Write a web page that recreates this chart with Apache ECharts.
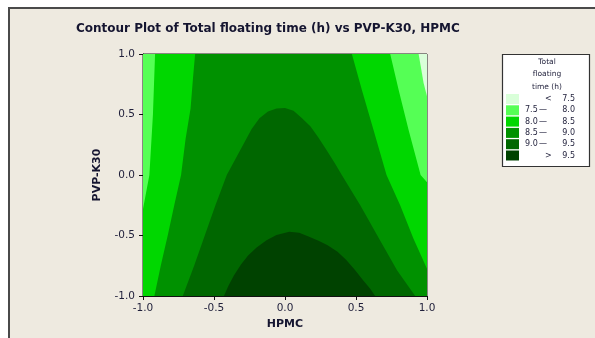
<!DOCTYPE html>
<html>
<head>
<meta charset="utf-8">
<script src="https://cdn.jsdelivr.net/npm/echarts@6/dist/echarts.min.js"></script>
<style>
  html, body { margin: 0; padding: 0; background: #fff; }
  #chart { width: 595px; height: 338px; }
</style>
</head>
<body>
<div id="chart"></div>
<script>
// axis ticks (HPMC on x, PVP-K30 on y)
const xTicks = [-1.0, -0.5, 0.0, 0.5, 1.0];
const yTicks = [-1.0, -0.5, 0.0, 0.5, 1.0];

// legend classes, lowest to highest
const levels = ['< 7.5', '7.5 – 8.0', '8.0 – 8.5', '8.5 – 9.0', '9.0 – 9.5', '> 9.5'];
const levelColors = ['#d9ffd9', '#55ff55', '#00d700', '#009100', '#006700', '#004200'];

// filled regions as [HPMC, PVP-K30] outlines
const areaAll = [[-1, 1], [-1, -1], [1, -1], [1, 1]];
const areaAbove80 = [
  [-0.915, 1], [-0.93, 0.5], [-0.955, 0], [-1, -0.28], [-1, -1], [1, -1],
  [1, -0.06], [0.955, 0], [0.87, 0.374], [0.80, 0.705], [0.741, 1]
];
const areaAbove85 = [
  [-0.633, 1], [-0.648, 0.8], [-0.665, 0.55], [-0.70, 0.3], [-0.732, 0], [-0.78, -0.25],
  [-0.826, -0.5], [-0.875, -0.75], [-0.92, -1], [1, -1], [1, -0.774],
  [0.905, -0.526], [0.811, -0.25], [0.715, 0], [0.623, 0.374], [0.541, 0.705], [0.471, 1]
];
const areaAbove90 = [
  [-0.72, -1], [-0.64, -0.75], [-0.565, -0.5], [-0.49, -0.25], [-0.41, 0.0],
  [-0.35, 0.13], [-0.29, 0.26], [-0.235, 0.38], [-0.18, 0.47], [-0.12, 0.525],
  [-0.06, 0.55], [0.0, 0.553], [0.06, 0.53], [0.12, 0.47], [0.18, 0.40], [0.235, 0.31],
  [0.29, 0.21], [0.35, 0.10], [0.40, 0.0], [0.53, -0.25], [0.66, -0.52],
  [0.79, -0.79], [0.917, -1]
];
const areaAbove95 = [
  [-0.43, -1], [-0.40, -0.92], [-0.36, -0.83], [-0.31, -0.74], [-0.26, -0.665],
  [-0.2, -0.6], [-0.13, -0.54], [-0.06, -0.495], [0.03, -0.468], [0.1, -0.478],
  [0.17, -0.51], [0.24, -0.545], [0.3, -0.58], [0.37, -0.635], [0.43, -0.70],
  [0.49, -0.78], [0.55, -0.87], [0.6, -0.94], [0.635, -1]
];
const areaBelow75 = [[0.941, 1], [0.976, 0.76], [1, 0.65], [1, 1]];

const textColor = '#1f1f3a';
const font = 'DejaVu Sans';

function region(name, pts, color, z) {
  return {
    type: 'custom',
    name: name,
    coordinateSystem: 'cartesian2d',
    data: pts,
    encode: { x: 0, y: 1 },
    itemStyle: { color: color },
    z: z,
    clip: true,
    silent: true,
    renderItem: function (params, api) {
      if (params.dataIndex !== 0) return null;
      return {
        type: 'polygon',
        shape: { points: pts.map(function (p) { return api.coord(p); }) },
        style: { fill: color }
      };
    }
  };
}

function legendLabel(name) {
  if (name[0] === '<' || name[0] === '>') {
    return '{sp|}{op|' + name[0] + '}{hi|' + name.slice(2) + '}';
  }
  const parts = name.split(' – ');
  return '{lo|' + parts[0] + '}{d|—}{hi2|' + parts[1] + '}';
}

const legendFont = { fontFamily: font, fontSize: 8, color: textColor };

const chart = echarts.init(document.getElementById('chart'));

chart.setOption({
  backgroundColor: '#ffffff',
  animation: false,
  title: {
    text: 'Contour Plot of Total floating time (h) vs PVP-K30, HPMC',
    left: 76,
    top: 23,
    padding: 0,
    textStyle: { fontFamily: font, fontSize: 12, fontWeight: 'bold', color: '#151530' }
  },
  graphic: [
    {
      type: 'rect', z: -10, silent: true,
      shape: { x: 9, y: 8, width: 600, height: 340 },
      style: { fill: '#eeeae0', stroke: '#4a4a4a', lineWidth: 2 }
    },
    {
      type: 'rect', z: 1, silent: true,
      shape: { x: 502.5, y: 54.5, width: 87, height: 112 },
      style: { fill: '#ffffff', stroke: '#333333', lineWidth: 1.2 }
    },
    {
      type: 'text', z: 2, silent: true,
      x: 547, y: 56,
      style: {
        text: 'Total\nfloating\ntime (h)',
        fontFamily: font, fontSize: 7.5, lineHeight: 12.3,
        fill: textColor, align: 'center'
      }
    }
  ],
  grid: {
    left: 143, top: 54, width: 284, height: 242,
    show: true, borderColor: '#222', borderWidth: 1, backgroundColor: 'transparent'
  },
  legend: {
    orient: 'vertical',
    left: 506, top: 94,
    padding: 0,
    itemWidth: 13, itemHeight: 10, itemGap: 1.3,
    icon: 'rect',
    selectedMode: false,
    data: levels,
    formatter: legendLabel,
    textStyle: Object.assign({}, legendFont, {
      padding: [0, 0, 0, 1],
      rich: {
        lo: Object.assign({ width: 14 }, legendFont),
        d: Object.assign({ width: 8 }, legendFont),
        hi2: Object.assign({ width: 28, align: 'right' }, legendFont),
        sp: { width: 20 },
        op: Object.assign({ width: 8 }, legendFont),
        hi: Object.assign({ width: 22, align: 'right' }, legendFont)
      }
    })
  },
  xAxis: {
    type: 'value', min: xTicks[0], max: xTicks[xTicks.length - 1], interval: 0.5,
    name: 'HPMC', nameLocation: 'middle', nameGap: 21,
    nameTextStyle: { fontFamily: font, fontSize: 11, fontWeight: 'bold', color: '#151530' },
    axisLine: { onZero: false, lineStyle: { color: '#111', width: 1 } },
    axisTick: { show: true, length: 4, lineStyle: { color: '#111' } },
    axisLabel: {
      margin: 7, fontFamily: font, fontSize: 10.5, color: textColor,
      formatter: function (v) { return v.toFixed(1); }
    },
    splitLine: { show: false }
  },
  yAxis: {
    type: 'value', min: yTicks[0], max: yTicks[yTicks.length - 1], interval: 0.5,
    name: 'PVP-K30', nameLocation: 'middle', nameGap: 40,
    nameTextStyle: { fontFamily: font, fontSize: 11, fontWeight: 'bold', color: '#151530' },
    axisLine: { onZero: false, lineStyle: { color: '#111', width: 1 } },
    axisTick: { show: true, length: 4, lineStyle: { color: '#111' } },
    axisLabel: {
      margin: 8, fontFamily: font, fontSize: 10.5, color: textColor,
      formatter: function (v) { return v.toFixed(1); }
    },
    splitLine: { show: false }
  },
  series: [
    region(levels[1], areaAll, levelColors[1], 2),
    region(levels[2], areaAbove80, levelColors[2], 3),
    region(levels[3], areaAbove85, levelColors[3], 4),
    region(levels[4], areaAbove90, levelColors[4], 5),
    region(levels[5], areaAbove95, levelColors[5], 6),
    region(levels[0], areaBelow75, levelColors[0], 7)
  ]
});
</script>
</body>
</html>
